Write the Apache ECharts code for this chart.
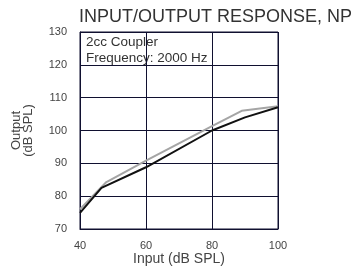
<!DOCTYPE html>
<html><head><meta charset="utf-8">
<script src="https://cdn.jsdelivr.net/npm/echarts@6/dist/echarts.min.js"></script>
<style>html,body{margin:0;padding:0;background:#fff}#c{width:351px;height:268px}</style>
</head><body><div id="c"></div>
<script>
var titleText = "INPUT/OUTPUT RESPONSE, NP";
var noteLines = ["2cc Coupler", "Frequency: 2000 Hz"];
var xTicks = [40, 60, 80, 100];
var yTicks = [70, 80, 90, 100, 110, 120, 130];
var blackX = [40, 46.5, 60, 80, 90, 100];
var blackY = [74.9, 82.5, 88.8, 100, 104, 107.1];
var grayX = [40, 48, 60, 80, 89, 100];
var grayY = [76, 84.3, 90.8, 101.3, 106, 107.4];

function pairs(xs, ys){ return xs.map(function(x,i){return [x, ys[i]];}); }
var chart = echarts.init(document.getElementById('c'));
var gridColor = '#101030';
var font = 'Liberation Sans, Arial, sans-serif';
chart.setOption({
  animation: false,
  title: { text: titleText, left: 79, top: 8, padding: 0, textStyle: { fontFamily: font, fontSize: 18, fontWeight: 'normal', color: '#333' } },
  grid: { left: 80, right: 73, top: 32, bottom: 39, show: true, borderColor: gridColor, borderWidth: 1, outerBoundsMode: 'none', containLabel: false },
  xAxis: { type: 'value', min: xTicks[0], max: xTicks[xTicks.length-1], interval: 20,
    name: 'Input (dB SPL)', nameLocation: 'middle', nameGap: 23, nameMoveOverlap: false,
    nameTextStyle: { fontFamily: font, fontSize: 14, color: '#444' },
    axisLine: { show: true, lineStyle: { color: gridColor } }, axisTick: { show: false },
    axisLabel: { fontFamily: font, fontSize: 11, color: '#444', margin: 11 },
    splitLine: { show: true, lineStyle: { color: gridColor, width: 1 } } },
  yAxis: { type: 'value', min: yTicks[0], max: yTicks[yTicks.length-1], interval: 10,
    name: 'Output\n(dB SPL)', nameLocation: 'middle', nameGap: 46, nameRotate: 90,
    nameTextStyle: { fontFamily: font, fontSize: 13, color: '#444', lineHeight: 12 },
    axisLine: { show: true, lineStyle: { color: gridColor } }, axisTick: { show: false },
    axisLabel: { fontFamily: font, fontSize: 11, color: '#444', margin: 13 },
    splitLine: { show: true, lineStyle: { color: gridColor, width: 1 } } },
  graphic: [{ type: 'text', left: 86, top: 34, style: { text: noteLines.join('\n'), fontFamily: font, fontSize: 13.5, lineHeight: 16, fill: '#333' } }],
  series: [
    { type: 'line', data: pairs(grayX, grayY), symbol: 'none', lineStyle: { color: '#a5a5a5', width: 2 } },
    { type: 'line', data: pairs(blackX, blackY), symbol: 'none', lineStyle: { color: '#111', width: 2 } }
  ]
});
</script></body></html>
